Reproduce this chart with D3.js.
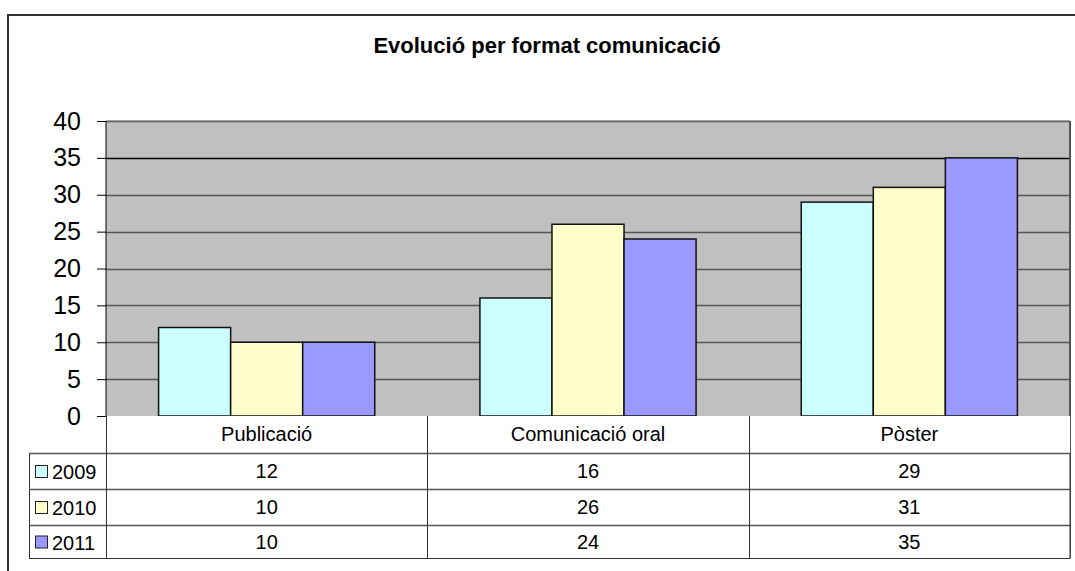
<!DOCTYPE html>
<html>
<head>
<meta charset="utf-8">
<script src="https://d3js.org/d3.v7.min.js"></script>
<style>
  body { margin: 0; background: #fff; }
  text { font-family: "Liberation Sans", Arial, sans-serif; }
</style>
</head>
<body>
<script>
  const categories = ["Publicació", "Comunicació oral", "Pòster"];
  const years = ["2009", "2010", "2011"];
  const values2009 = [12, 16, 29];
  const values2010 = [10, 26, 31];
  const values2011 = [10, 24, 35];
  const yTicks = [0, 5, 10, 15, 20, 25, 30, 35, 40];
  const colors = ["#ccffff", "#ffffcc", "#9999ff"];

  const series = [values2009, values2010, values2011];

  const w = 1075, h = 571;
  const plotL = 106, plotR = 1070, plotT = 121, plotB = 416;
  const rowH = [416, 453, 489, 525, 558];

  const svg = d3.select("body").append("svg")
    .attr("width", w).attr("height", h);

  // outer frame
  svg.append("rect")
    .attr("x", 8).attr("y", 15)
    .attr("width", 1100).attr("height", 600)
    .attr("fill", "#fff").attr("stroke", "#333").attr("stroke-width", 2);

  svg.append("text")
    .attr("x", 547).attr("y", 53)
    .attr("text-anchor", "middle")
    .attr("font-size", 22).attr("font-weight", "bold")
    .text("Evolució per format comunicació");

  const x = d3.scaleBand().domain(categories).range([plotL, plotR]);
  const xInner = d3.scaleBand().domain(years)
    .range([0, x.bandwidth()]).paddingOuter(0.73).paddingInner(0);
  const y = d3.scaleLinear().domain([0, 40]).range([plotB, plotT]);

  // plot background
  svg.append("rect")
    .attr("x", plotL).attr("y", plotT)
    .attr("width", plotR - plotL).attr("height", plotB - plotT)
    .attr("fill", "#c0c0c0");

  // gridlines
  svg.append("g").selectAll("line")
    .data(yTicks.filter(d => d > 0))
    .join("line")
    .attr("x1", plotL).attr("x2", plotR)
    .attr("y1", d => Math.round(y(d)) + 0.5).attr("y2", d => Math.round(y(d)) + 0.5)
    .attr("stroke", d => d === 35 ? "#000" : "#555")
    .attr("stroke-width", 1.5);

  // bars
  const groups = svg.append("g").selectAll("g")
    .data(categories)
    .join("g")
    .attr("transform", d => `translate(${x(d)},0)`);

  groups.selectAll("rect")
    .data((c, i) => years.map((yr, j) => ({ yr, j, v: series[j][i] })))
    .join("rect")
    .attr("x", d => xInner(d.yr))
    .attr("y", d => y(d.v))
    .attr("width", xInner.bandwidth())
    .attr("height", d => y(0) - y(d.v))
    .attr("fill", d => colors[d.j])
    .attr("stroke", "#111").attr("stroke-width", 1.5);

  // y axis
  const yAxis = d3.axisLeft(y).tickValues(yTicks).tickSize(9).tickPadding(16);
  const ga = svg.append("g")
    .attr("transform", `translate(${plotL},0)`)
    .call(yAxis);
  ga.select(".domain").attr("stroke", "#000").attr("d", `M0,${plotT}V${plotB}`);
  ga.selectAll("text").attr("font-size", 25).attr("fill", "#000")
    .attr("font-family", "Liberation Sans, Arial, sans-serif");

  // plot border
  svg.append("line")
    .attr("x1", plotR).attr("x2", plotR).attr("y1", plotT).attr("y2", rowH[4])
    .attr("stroke", "#555").attr("stroke-width", 2);
  svg.append("line")
    .attr("x1", plotL).attr("x2", plotR).attr("y1", plotT).attr("y2", plotT)
    .attr("stroke", "#777");

  // data table
  const tbl = svg.append("g");
  tbl.append("rect")
    .attr("x", plotL).attr("y", plotB)
    .attr("width", plotR - plotL).attr("height", rowH[1] - plotB)
    .attr("fill", "#fff");
  tbl.append("rect")
    .attr("x", 29.5).attr("y", rowH[1] + 0.5)
    .attr("width", plotR - 29.5).attr("height", rowH[4] - rowH[1])
    .attr("fill", "#fff").attr("stroke", "#333");

  tbl.selectAll("line.h")
    .data(rowH.slice(1, 4))
    .join("line").attr("class", "h")
    .attr("x1", 29).attr("x2", plotR)
    .attr("y1", d => d + 0.5).attr("y2", d => d + 0.5)
    .attr("stroke", "#555").attr("stroke-width", 1.3);

  const colEdges = [plotL, ...categories.slice(1).map(c => x(c))];
  tbl.selectAll("line.v")
    .data(colEdges)
    .join("line").attr("class", "v")
    .attr("x1", d => Math.round(d) + 0.5).attr("x2", d => Math.round(d) + 0.5)
    .attr("y1", plotB).attr("y2", rowH[4])
    .attr("stroke", "#333");

  tbl.selectAll("text.cat")
    .data(categories)
    .join("text").attr("class", "cat")
    .attr("x", d => x(d) + x.bandwidth() / 2)
    .attr("y", 441)
    .attr("text-anchor", "middle").attr("font-size", 20)
    .text(d => d);

  years.forEach((yr, j) => {
    const cy = (rowH[j + 1] + rowH[j + 2]) / 2;
    tbl.append("rect")
      .attr("x", 35.5).attr("y", cy - 5.5)
      .attr("width", 12).attr("height", 12)
      .attr("fill", colors[j]).attr("stroke", "#222");
    tbl.append("text")
      .attr("x", 52).attr("y", cy + 8)
      .attr("font-size", 20)
      .text(yr);
    tbl.selectAll(null)
      .data(series[j])
      .join("text")
      .attr("x", (d, i) => x(categories[i]) + x.bandwidth() / 2)
      .attr("y", cy + 7)
      .attr("text-anchor", "middle").attr("font-size", 20)
      .text(d => d);
  });
</script>
</body>
</html>
